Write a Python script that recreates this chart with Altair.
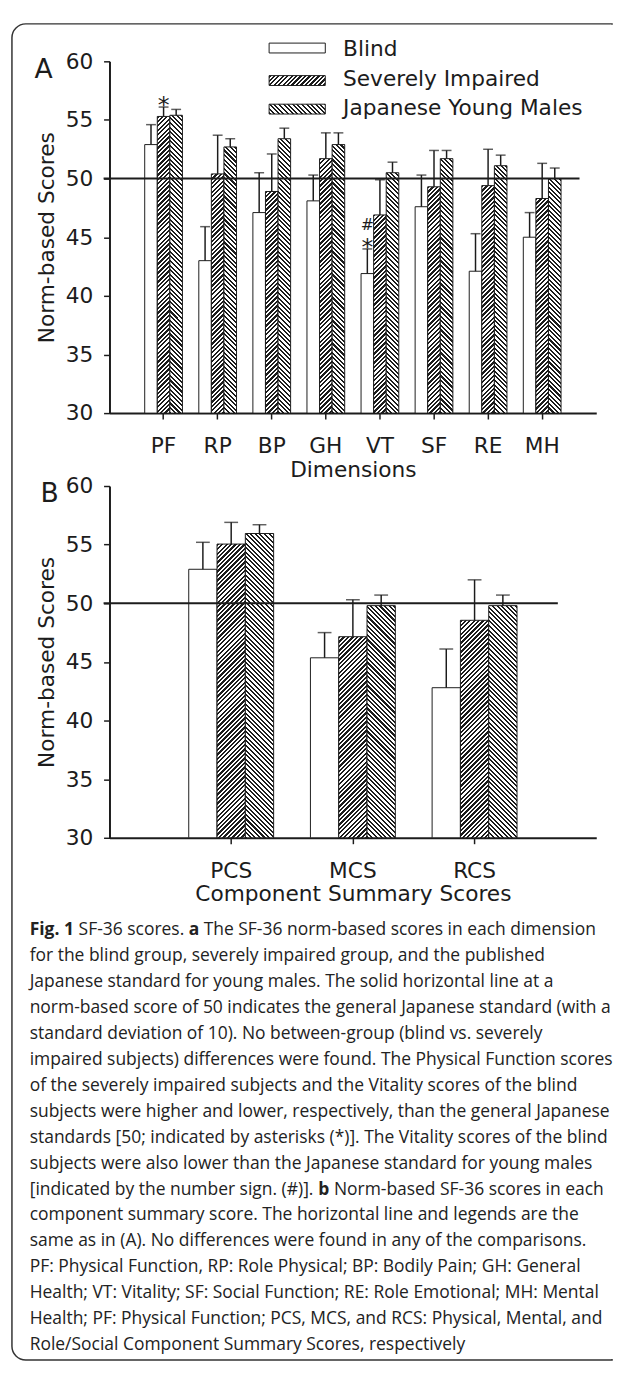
import math
import altair as alt
import pandas as pd

# ---------------- data ----------------
groups = ["Blind", "Severely Impaired", "Japanese Young Males"]

dims = ["PF", "RP", "BP", "GH", "VT", "SF", "RE", "MH"]
blind_a = [52.9, 43.0, 47.1, 48.1, 41.9, 47.6, 42.1, 45.0]
blind_a_err = [54.6, 45.9, 50.5, 50.3, 44.0, 50.3, 45.3, 47.1]
severe_a = [55.3, 50.4, 48.9, 51.7, 46.9, 49.3, 49.4, 48.3]
severe_a_err = [56.1, 53.7, 52.1, 53.9, 49.9, 52.4, 52.5, 51.3]
japan_a = [55.4, 52.7, 53.4, 52.9, 50.5, 51.7, 51.1, 50.0]
japan_a_err = [55.9, 53.4, 54.3, 53.9, 51.4, 52.4, 52.0, 50.9]

comps = ["PCS", "MCS", "RCS"]
blind_b = [52.9, 45.35, 42.8]
blind_b_err = [55.2, 47.5, 46.1]
severe_b = [55.05, 47.15, 48.55]
severe_b_err = [56.9, 50.3, 52.0]
japan_b = [55.95, 49.8, 49.8]
japan_b_err = [56.7, 50.7, 50.7]

# significance marks: (category, group, symbol)
star_marks = [("PF", "Severely Impaired", "*"), ("VT", "Blind", "*")]
hash_marks = [("VT", "Blind", "#")]

y_ticks = [30, 35, 40, 45, 50, 55, 60]
y_title = "Norm-based Scores"
norm_line = 50

caption_lines = [
    [("Fig. 1", True), ("SF-36 scores.", False), ("a", True),
     ("The SF-36 norm-based scores in each dimension", False)],
    [("for the blind group, severely impaired group, and the published", False)],
    [("Japanese standard for young males. The solid horizontal line at a", False)],
    [("norm-based score of 50 indicates the general Japanese standard (with a", False)],
    [("standard deviation of 10). No between-group (blind vs. severely", False)],
    [("impaired subjects) differences were found. The Physical Function scores", False)],
    [("of the severely impaired subjects and the Vitality scores of the blind", False)],
    [("subjects were higher and lower, respectively, than the general Japanese", False)],
    [("standards [50; indicated by asterisks (*)]. The Vitality scores of the blind", False)],
    [("subjects were also lower than the Japanese standard for young males", False)],
    [("[indicated by the number sign. (#)].", False), ("b", True),
     ("Norm-based SF-36 scores in each", False)],
    [("component summary score. The horizontal line and legends are the", False)],
    [("same as in (A). No differences were found in any of the comparisons.", False)],
    [("PF: Physical Function, RP: Role Physical; BP: Bodily Pain; GH: General", False)],
    [("Health; VT: Vitality; SF: Social Function; RE: Role Emotional; MH: Mental", False)],
    [("Health; PF: Physical Function; PCS, MCS, and RCS: Physical, Mental, and", False)],
    [("Role/Social Component Summary Scores, respectively", False)],
]

# ---------------- style ----------------
FONT = "DejaVu Sans"
CAP_FONT = "Open Sans"
INK = "#1c1c1c"
FS = 22
W = 494
H = 357
GAP = 74
SUBPAD = 0.65
CAP_FS = 17.7
CAP_STEP = 26.3
CAP_Y0 = 25


def hatch(w, h, kind, period, frac):
    """diagonal stripes as a hard-stop linear gradient (bbox units)."""
    L = w + h
    P = period * math.sqrt(2)
    lam = L / (w * w + h * h)
    a, b = w * lam, h * lam
    if kind == "/":
        x1, y1, x2, y2 = 0, 0, a, b
    else:
        x1, y1, x2, y2 = 0, 1, a, 1 - b
    stops = []
    j = 0
    while j * P / L < 1:
        s0 = j * P / L
        s1 = min((j + frac) * P / L, 1)
        s2 = min((j + 1) * P / L, 1)
        stops += [
            {"offset": round(s0, 5), "color": INK},
            {"offset": round(s1, 5), "color": INK},
            {"offset": round(s1, 5), "color": "#ffffff"},
            {"offset": round(s2, 5), "color": "#ffffff"},
        ]
        j += 1
    return {"gradient": "linear", "x1": x1, "y1": y1,
            "x2": round(x2, 5), "y2": round(y2, 5), "stops": stops}


HATCH = {"Severely Impaired": ("/", 3.2, 0.52), "Japanese Young Males": ("\\", 3.3, 0.45)}

yscale = alt.Scale(domain=[30, 60], nice=False, zero=False)
yaxis = alt.Axis(values=y_ticks, grid=False, labelFont=FONT, labelFontSize=FS,
                 labelColor=INK, labelPadding=11, tickSize=6, tickWidth=1.5,
                 tickColor=INK, domainColor=INK, domainWidth=2,
                 titleFont=FONT, titleFontSize=FS, titleFontWeight="normal",
                 titleColor=INK, titleAngle=270, titleBaseline="alphabetic",
                 titleAlign="center", titleX=-57, titleY=H / 2)


def panel(cats, series, errs, xtitle, cap, letter, letter_xy, rule_x2, legend):
    nb = len(cats)
    step = W / (nb + 1)
    sub = step / (3 + 2 * SUBPAD)
    rows = []
    for g, vals, es in zip(groups, series, errs):
        for c, v, e in zip(cats, vals, es):
            rows.append({"cat": c, "grp": g, "val": v, "err": e, "base": 30})
    df = pd.DataFrame(rows)
    base = alt.Chart(df)

    xaxis = alt.Axis(labelAngle=0, grid=False, labelFont=FONT, labelFontSize=FS,
                     labelColor=INK, labelBaseline="alphabetic", labelPadding=34,
                     tickSize=6, tickWidth=1.5, tickColor=INK, domainColor=INK,
                     domainWidth=2, titleFont=FONT, titleFontSize=FS,
                     titleFontWeight="normal", titleColor=INK,
                     titleBaseline="alphabetic", titleY=64, titleX=W / 2)
    x = alt.X("cat:N", sort=cats, title=xtitle, axis=xaxis,
              scale=alt.Scale(domain=cats, paddingInner=0, paddingOuter=0.5))
    xo = alt.XOffset("grp:N", sort=groups,
                     scale=alt.Scale(domain=groups, paddingInner=0, paddingOuter=SUBPAD))
    yv = alt.Y("val:Q", scale=yscale, title=y_title, axis=yaxis)
    ye = alt.Y("err:Q", scale=yscale, title=y_title, axis=yaxis)

    layers = []
    layers.append(
        base.transform_filter("datum.grp == 'Blind'")
        .mark_bar(fill="#ffffff", stroke=INK, strokeWidth=1)
        .encode(x=x, xOffset=xo, y=yv, y2="base:Q")
    )
    for g in groups[1:]:
        kind, per, frac = HATCH[g]
        for r in rows:
            if r["grp"] != g:
                continue
            h = (r["val"] - 30) / 30 * H
            layers.append(
                base.transform_filter(
                    f"datum.grp == '{g}' && datum.cat == '{r['cat']}'")
                .mark_bar(fill=hatch(sub, h, kind, per, frac), stroke=INK, strokeWidth=1)
                .encode(x=x, xOffset=xo, y=yv, y2="base:Q")
            )
    # error bars
    layers.append(base.mark_rule(color=INK, strokeWidth=1.5)
                  .encode(x=x, xOffset=xo, y=yv, y2="err:Q"))
    layers.append(base.mark_tick(color=INK, thickness=1.5, size=cap, orient="horizontal")
                  .encode(x=x, xOffset=xo, y=ye))
    # reference line at 50
    layers.append(
        alt.Chart(pd.DataFrame({"v": [norm_line]}))
        .mark_rule(color=INK, strokeWidth=2)
        .encode(y=alt.Y("v:Q", scale=yscale, title=y_title, axis=yaxis),
                x=alt.value(-6), x2=alt.value(rule_x2))
    )
    # significance marks
    for marks, fs, dy in ((star_marks, 24, 6), (hash_marks, 16, -19)):
        sel = [m for m in marks if m[0] in cats]
        if not sel:
            continue
        mdf = pd.DataFrame([{"cat": c, "grp": g, "sym": s,
                             "err": df[(df.cat == c) & (df.grp == g)].err.iloc[0]}
                            for c, g, s in sel])
        layers.append(
            alt.Chart(mdf).mark_text(font=FONT, fontSize=fs, color=INK,
                                     baseline="alphabetic", dy=dy)
            .encode(x=x, xOffset=xo, y=ye, text="sym:N")
        )
    # panel letter
    layers.append(
        alt.Chart(pd.DataFrame({"t": [letter]}))
        .mark_text(font=FONT, fontSize=27, color=INK, align="left", baseline="alphabetic")
        .encode(x=alt.value(letter_xy[0]), y=alt.value(letter_xy[1]), text="t:N")
    )
    if legend:
        ldf = pd.DataFrame({"grp": groups})
        tops = [-18.5, 14.5, 43.5]
        bases = [-5, 25, 54]
        for g, t, bl in zip(groups, tops, bases):
            if g == "Blind":
                fill = "#ffffff"
            else:
                kind, per, frac = HATCH[g]
                fill = hatch(57, 10, kind, per, frac)
            layers.append(
                alt.Chart(ldf).transform_filter(f"datum.grp == '{g}'")
                .mark_rect(fill=fill, stroke=INK, strokeWidth=1)
                .encode(x=alt.value(162), x2=alt.value(219),
                        y=alt.value(t), y2=alt.value(t + 10))
            )
            layers.append(
                alt.Chart(ldf).transform_filter(f"datum.grp == '{g}'")
                .mark_text(font=FONT, fontSize=FS, color=INK, align="left",
                           baseline="alphabetic")
                .encode(x=alt.value(237), y=alt.value(bl), text="grp:N")
            )
    return alt.layer(*layers).properties(width=W, height=H)


panel_a = panel(dims, [blind_a, severe_a, japan_a], [blind_a_err, severe_a_err, japan_a_err],
                "Dimensions", 10, "A", (-76, 17), 477, True)
panel_b = panel(comps, [blind_b, severe_b, japan_b], [blind_b_err, severe_b_err, japan_b_err],
                "Component Summary Scores", 14, "B", (-70, 16), 455, False)

# ---------------- caption ----------------
REG = {' ': 532, 'S': 1124, 'F': 1057, '-': 659, '3': 1171, '6': 1171, 'c': 975,
       'o': 1237, 'r': 836, 'e': 1149, 's': 977, '.': 545, '[': 674, 'i': 518,
       'n': 1257, 'd': 1255, 'a': 1139, 't': 723, 'b': 1255, 'y': 1028, 'h': 1257,
       'u': 1257, 'm': 1905, 'g': 1122, '(': 606, '#': 1323, ')': 606, ']': 674}
BOLD = {'F': 1128, 'i': 590, 'g': 1208, '.': 584, ' ': 532, '1': 1171, 'a': 1214, 'b': 1292}


def tw(s, bold):
    tab = BOLD if bold else REG
    return sum(tab.get(ch, 1100) for ch in s) / 2048 * CAP_FS


cap_rows = []
for i, segs in enumerate(caption_lines):
    xo = 0.0
    for txt, bold in segs:
        cap_rows.append({"row": i, "xo": xo, "txt": txt, "bold": bold})
        xo += tw(txt, bold) + tw(" ", False)
cap_df = pd.DataFrame(cap_rows)

cx = alt.X("xo:Q", scale=alt.Scale(domain=[0, 600], range=[-81, 519]), axis=None)
cy = alt.Y("row:Q", scale=alt.Scale(domain=[0, 16], range=[CAP_Y0, CAP_Y0 + 16 * CAP_STEP]),
           axis=None)

cap_norm = (alt.Chart(cap_df).transform_filter("!datum.bold")
            .mark_text(font=CAP_FONT, fontSize=CAP_FS, color="#222222", align="left",
                       baseline="alphabetic")
            .encode(x=cx, y=cy, text="txt:N"))
cap_bold = (alt.Chart(cap_df).transform_filter("datum.bold")
            .mark_text(font=CAP_FONT, fontSize=CAP_FS, fontWeight="bold", color="#222222",
                       align="left", baseline="alphabetic")
            .encode(x=cx, y=cy, text="txt:N"))

# figure frame: rounded on the left, open on the right (runs to the page edge)
one = pd.DataFrame({"f": [1]})
TOP = -(2 * H + 2 * GAP) - 38
BOT = 456
RIGHT = 510
frame = (alt.Chart(one)
         .mark_rect(filled=False, stroke="#333333", strokeWidth=1.5,
                    cornerRadiusTopLeft=14, cornerRadiusBottomLeft=14)
         .encode(x=alt.value(-99), x2=alt.value(RIGHT), y=alt.value(TOP), y2=alt.value(BOT)))
frame_mask = (alt.Chart(one)
              .mark_rule(color="#ffffff", strokeWidth=3)
              .encode(x=alt.value(RIGHT), y=alt.value(TOP + 1), y2=alt.value(BOT - 1)))

caption = alt.layer(frame, frame_mask, cap_norm, cap_bold).properties(width=W, height=440)

chart = (
    alt.vconcat(panel_a, panel_b, caption, spacing=GAP, bounds="flush")
    .resolve_scale(xOffset="independent")
    .properties(padding={"left": 3, "top": 5, "right": 0, "bottom": 0})
    .configure_view(stroke=None)
)

chart.save("out.html", embed_options={"renderer": "svg", "actions": False})
